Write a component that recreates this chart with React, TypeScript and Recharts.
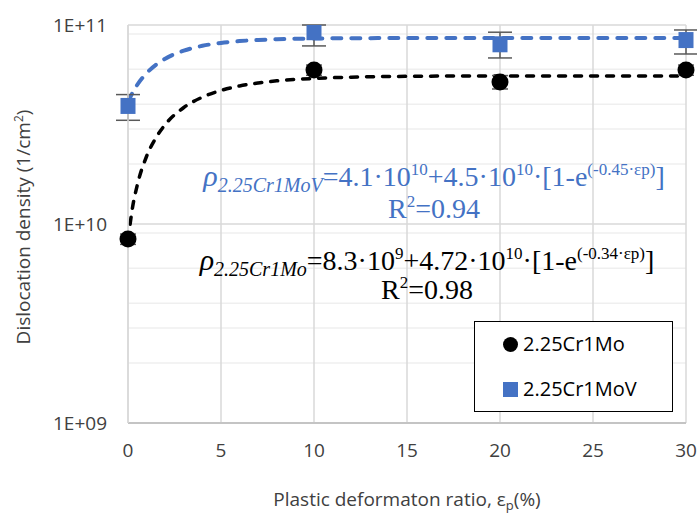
import React from "react";
import {
  ComposedChart,
  Line,
  Scatter,
  ErrorBar,
  XAxis,
  YAxis,
  CartesianGrid,
  Label,
} from "recharts";

// measured points
const strain = [0, 10, 20, 30];
const rhoMo = [8.4e9, 5.94e10, 5.17e10, 5.94e10];
const errMo = [
  [0.5e9, 0.5e9],
  [0.35e10, 0.35e10],
  [0.4e10, 0.4e10],
  [0.35e10, 0.35e10],
];
const rhoMoV = [3.92e10, 9.2e10, 8.0e10, 8.4e10];
const errMoV = [
  [0.6e10, 0.55e10],
  [1.35e10, 0.8e10],
  [1.17e10, 1.2e10],
  [1.25e10, 1.04e10],
];

// fitted curves
const fitStrain = [0, 0.25, 0.5, 1, 1.5, 2, 3, 4, 5, 6, 7, 8, 10, 12, 15, 20, 25, 30];
const fitMo = [
  8.3e9, 1.22e10, 1.57e10, 2.19e10, 2.71e10, 3.16e10, 3.85e10, 4.34e10, 4.69e10,
  4.94e10, 5.11e10, 5.24e10, 5.39e10, 5.47e10, 5.52e10, 5.55e10, 5.55e10, 5.55e10,
];
const fitMoV = [
  4.1e10, 4.58e10, 5.01e10, 5.73e10, 6.31e10, 6.77e10, 7.43e10, 7.86e10, 8.13e10,
  8.3e10, 8.41e10, 8.48e10, 8.55e10, 8.58e10, 8.6e10, 8.6e10, 8.6e10, 8.6e10,
];

const xTicks = [0, 5, 10, 15, 20, 25, 30];
const yTicks = [1e9, 1e10, 1e11];
const minorY = [1e9, 1e10].flatMap((d) => [2, 3, 4, 5, 6, 7, 8, 9].map((k) => k * d));

const BLUE = "#4472C4";
const sans = "'Open Sans', sans-serif";
const serif = "'Liberation Serif', serif";

const moPts = strain.map((x, i) => ({ x, y: rhoMo[i], err: errMo[i] }));
const movPts = strain.map((x, i) => ({ x, y: rhoMoV[i], err: errMoV[i] }));
const moFit = fitStrain.map((x, i) => ({ x, y: fitMo[i] }));
const movFit = fitStrain.map((x, i) => ({ x, y: fitMoV[i] }));

const fmtY = (v: number) => "1E+" + String(Math.round(Math.log10(v))).padStart(2, "0");

const sup: React.CSSProperties = { fontSize: 17, position: "relative", top: -11 };

function EqLine({ center, top, color, children }: any) {
  return (
    <div
      style={{
        position: "absolute",
        left: center - 300,
        top,
        width: 600,
        textAlign: "center",
        whiteSpace: "nowrap",
        fontFamily: serif,
        fontSize: 28,
        lineHeight: "28px",
        color,
      }}
    >
      {children}
    </div>
  );
}

function Rho({ sub }: { sub: string }) {
  return (
    <>
      <i style={{ fontSize: 30 }}>ρ</i>
      <i style={{ fontSize: 20, position: "relative", top: 6 }}>{sub}</i>
    </>
  );
}

export default function App() {
  return (
    <div style={{ position: "absolute", left: 0, top: 0, width: 697, height: 513, background: "#fff" }}>
      <ComposedChart
        width={697}
        height={513}
        margin={{ top: 25, right: 11, bottom: 30, left: 0 }}
      >
        <CartesianGrid horizontalValues={minorY} vertical={false} stroke="#efefef" strokeWidth={1.5} />
        <CartesianGrid horizontalValues={yTicks} stroke="#d9d9d9" strokeWidth={1.5} />
        <XAxis
          type="number"
          dataKey="x"
          domain={[0, 30]}
          ticks={xTicks}
          tickSize={0}
          tickMargin={21}
          height={60}
          axisLine={{ stroke: "#c4c4c4", strokeWidth: 2 }}
          tick={{ fontSize: 19, fontFamily: sans, fill: "#404040" }}
        >
          <Label
            content={(p: any) => {
              const vb = p.viewBox;
              return (
                <text
                  x={vb.x + vb.width / 2}
                  y={506}
                  textAnchor="middle"
                  fontSize={19}
                  fontFamily={sans}
                  fill="#404040"
                >
                  Plastic deformaton ratio, ε
                  <tspan dy={4} fontSize={13}>p</tspan>
                  <tspan dy={-4}>(%)</tspan>
                </text>
              );
            }}
          />
        </XAxis>
        <YAxis
          type="number"
          dataKey="y"
          scale="log"
          domain={[1e9, 1e11]}
          allowDataOverflow
          ticks={yTicks}
          tickFormatter={fmtY}
          width={128}
          tickSize={0}
          tickMargin={21}
          axisLine={{ stroke: "#d9d9d9", strokeWidth: 1.5 }}
          tick={{ fontSize: 19, fontFamily: sans, fill: "#404040" }}
        >
          <Label
            content={(p: any) => {
              const vb = p.viewBox;
              const cy = vb.y + vb.height / 2 + 3;
              return (
                <text
                  x={30}
                  y={cy}
                  transform={`rotate(-90 30 ${cy})`}
                  textAnchor="middle"
                  fontSize={19}
                  fontFamily={sans}
                  fill="#404040"
                >
                  Dislocation density (1/cm
                  <tspan dy={-7} fontSize={12}>2</tspan>
                  <tspan dy={7}>)</tspan>
                </text>
              );
            }}
          />
        </YAxis>
        <Line
          data={movFit}
          dataKey="y"
          type="monotone"
          stroke={BLUE}
          strokeWidth={4}
          strokeDasharray="9 10"
          strokeLinecap="round"
          dot={false}
          activeDot={false}
          isAnimationActive={false}
        />
        <Line
          data={moFit}
          dataKey="y"
          type="monotone"
          stroke="#000"
          strokeWidth={3.5}
          strokeDasharray="7 9"
          strokeLinecap="round"
          dot={false}
          activeDot={false}
          isAnimationActive={false}
        />
        <Scatter
          data={moPts}
          dataKey="y"
          isAnimationActive={false}
          shape={(p: any) => <circle cx={p.cx} cy={p.cy} r={8.5} fill="#000" />}
        >
          <ErrorBar dataKey="err" direction="y" width={8} stroke="#595959" strokeWidth={1.5} />
        </Scatter>
        <Scatter
          data={movPts}
          dataKey="y"
          isAnimationActive={false}
          shape={(p: any) => <rect x={p.cx - 7.5} y={p.cy - 8} width={15} height={16} fill={BLUE} />}
        >
          <ErrorBar dataKey="err" direction="y" width={12} stroke="#595959" strokeWidth={1.5} />
        </Scatter>
      </ComposedChart>

      <EqLine center={434} top={162} color={BLUE}>
        <Rho sub="2.25Cr1MoV" />
        =4.1·10<span style={sup}>10</span>+4.5·10<span style={sup}>10</span>·[1-e
        <span style={sup}>(-0.45·εp)</span>]
      </EqLine>
      <EqLine center={434} top={195} color={BLUE}>
        R<span style={sup}>2</span>=0.94
      </EqLine>
      <EqLine center={427} top={246} color="#000">
        <Rho sub="2.25Cr1Mo" />
        =8.3·10<span style={sup}>9</span>+4.72·10<span style={sup}>10</span>·[1-e
        <span style={sup}>(-0.34·εp)</span>]
      </EqLine>
      <EqLine center={427} top={276} color="#000">
        R<span style={sup}>2</span>=0.98
      </EqLine>

      <div
        style={{
          position: "absolute",
          left: 474,
          top: 321,
          width: 199,
          height: 91,
          boxSizing: "border-box",
          border: "1.5px solid #000",
          background: "#fff",
          fontFamily: sans,
          fontSize: 20,
          color: "#000",
        }}
      >
        <div style={{ position: "absolute", left: 28, top: 15, width: 15, height: 15, borderRadius: "50%", background: "#000" }} />
        <div style={{ position: "absolute", left: 48, top: 8, lineHeight: "28px" }}>2.25Cr1Mo</div>
        <div style={{ position: "absolute", left: 28, top: 60, width: 15, height: 15, background: BLUE }} />
        <div style={{ position: "absolute", left: 48, top: 53, lineHeight: "28px" }}>2.25Cr1MoV</div>
      </div>
    </div>
  );
}
